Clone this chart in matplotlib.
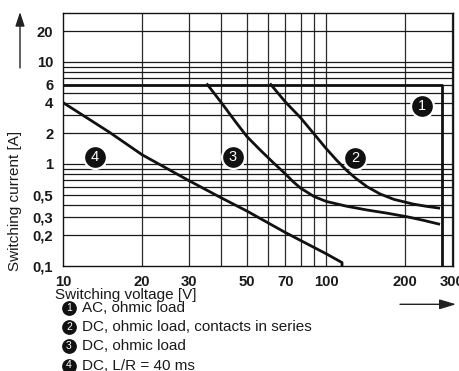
import matplotlib
matplotlib.use("Agg")
import matplotlib.pyplot as plt
from matplotlib.lines import Line2D

plt.rcParams['font.family'] = ['Liberation Sans', 'DejaVu Sans']

# ---- data ----
x_ticks = [10, 20, 30, 50, 70, 100, 200, 300]
x_tick_labels = ['10', '20', '30', '50', '70', '100', '200', '300']
y_ticks = [0.1, 0.2, 0.3, 0.5, 1, 2, 4, 6, 10, 20]
y_tick_labels = ['0,1', '0,2', '0,3', '0,5', '1', '2', '4', '6', '10', '20']
x_grid = [20, 30, 40, 50, 60, 70, 80, 90, 100, 200, 300]
y_grid = [0.2, 0.3, 0.4, 0.5, 0.6, 0.7, 0.8, 0.9, 1, 2, 3, 4, 5, 6, 7, 8, 9, 10, 20]

# curve 1: AC, ohmic load
v1 = [10, 275, 275]
i1 = [6, 6, 0.1]
# curve 2: DC, ohmic load, contacts in series
v2 = [61.7, 70, 80, 90, 100, 110, 120, 130, 143, 160, 181, 214, 240, 268]
i2 = [6.0, 4.06, 2.84, 1.97, 1.42, 1.08, 0.86, 0.72, 0.60, 0.51, 0.45, 0.405, 0.385, 0.37]
# curve 3: DC, ohmic load
v3 = [35.4, 40, 45, 50, 56.2, 63, 70, 75, 80, 90, 100, 120, 143, 170, 203, 235, 268]
i3 = [6.0, 3.99, 2.65, 1.86, 1.37, 1.03, 0.80, 0.67, 0.58, 0.48, 0.43, 0.385, 0.354,
      0.33, 0.304, 0.28, 0.258]
# curve 4: DC, L/R = 40 ms
v4 = [10, 15, 20, 30, 40, 50, 70, 100, 115, 115]
i4 = [4.0, 2.05, 1.23, 0.69, 0.465, 0.346, 0.213, 0.132, 0.108, 0.1]

curve_ids = ['1', '2', '3', '4']
legend_texts = ['AC, ohmic load', 'DC, ohmic load, contacts in series',
                'DC, ohmic load', 'DC, L/R = 40 ms']

# ---- figure ----
W, H = 459, 371
fig = plt.figure(figsize=(W / 100, H / 100), dpi=100)
ax = fig.add_axes([63 / W, 1 - 266 / H, 389.7 / W, 253.3 / H])
ax.set_xscale('log')
ax.set_yscale('log')
ax.set_xlim(10, 303)
ax.set_ylim(0.1, 30.4)

for g in x_grid:
    ax.axvline(g, color='#2a2a2a', lw=0.9, zorder=1)
for g in y_grid:
    ax.axhline(g, color='#1a1a1a', lw=0.9, zorder=1)

ax.xaxis.set_minor_locator(matplotlib.ticker.NullLocator())
ax.yaxis.set_minor_locator(matplotlib.ticker.NullLocator())
ax.set_xticks(x_ticks, x_tick_labels, fontsize=10.7, fontweight='bold')
ax.set_yticks(y_ticks, y_tick_labels, fontsize=10.7, fontweight='bold')
ax.tick_params(axis='x', length=0, pad=6.5, colors='#1a1a1a')
ax.tick_params(axis='y', length=0, pad=7, colors='#1a1a1a')
for s in ax.spines.values():
    s.set_linewidth(1.0)
    s.set_color('#111111')

lw = 2.0
for v, i in [(v1, i1), (v2, i2), (v3, i3), (v4, i4)]:
    ax.plot(v, i, color='#111111', lw=lw, zorder=3, solid_joinstyle='round')

# numbered circles on the chart (axes-fraction positions)
circ_pos = {'1': (0.9204, 0.6316), '2': (0.7493, 0.4273), '3': (0.4354, 0.4300), '4': (0.0821, 0.4312)}
for k, (px, py) in circ_pos.items():
    ax.plot([px], [py], marker='o', ms=16.5, mfc='#111111', mec='white', mew=1.6,
            transform=ax.transAxes, zorder=5, clip_on=False)
    ax.text(px, py, k, transform=ax.transAxes, color='white', fontsize=10.5,
            ha='center', va='center', zorder=6)

# axis labels
fig.text(15 / W, 1 - 201 / H, 'Switching current [A]', rotation=90, fontsize=11,
         ha='center', va='center', color='#1a1a1a')
fig.text(55 / W, 1 - 294.5 / H, 'Switching voltage [V]', fontsize=11,
         ha='left', va='center', color='#1a1a1a')

# arrows
fig.add_artist(matplotlib.patches.FancyArrowPatch(
    (20 / W, 1 - 68 / H), (20 / W, 1 - 12 / H), transform=fig.transFigure,
    arrowstyle='-|>,head_length=0.85,head_width=0.28', mutation_scale=10,
    color='#222222', lw=1.0, shrinkA=0, shrinkB=0))
fig.add_artist(matplotlib.patches.FancyArrowPatch(
    (400 / W, 1 - 304.3 / H), (456 / W, 1 - 304.3 / H), transform=fig.transFigure,
    arrowstyle='-|>,head_length=1.0,head_width=0.3', mutation_scale=10,
    color='#222222', lw=1.0, shrinkA=0, shrinkB=0))

# legend
leg_y = [308.3, 327.2, 346.2, 365.5]
for k, t, yy in zip(curve_ids, legend_texts, leg_y):
    fy = 1 - yy / H
    fig.add_artist(Line2D([69 / W], [fy], marker='o', ms=9.6, mfc='#111111',
                          mec='#111111', transform=fig.transFigure))
    fig.text(69 / W, fy, k, color='white', fontsize=7.5, ha='center', va='center')
    fig.text(81.5 / W, fy, t, fontsize=11, ha='left', va='center', color='#1a1a1a')

fig.savefig('out.png', dpi=100)
